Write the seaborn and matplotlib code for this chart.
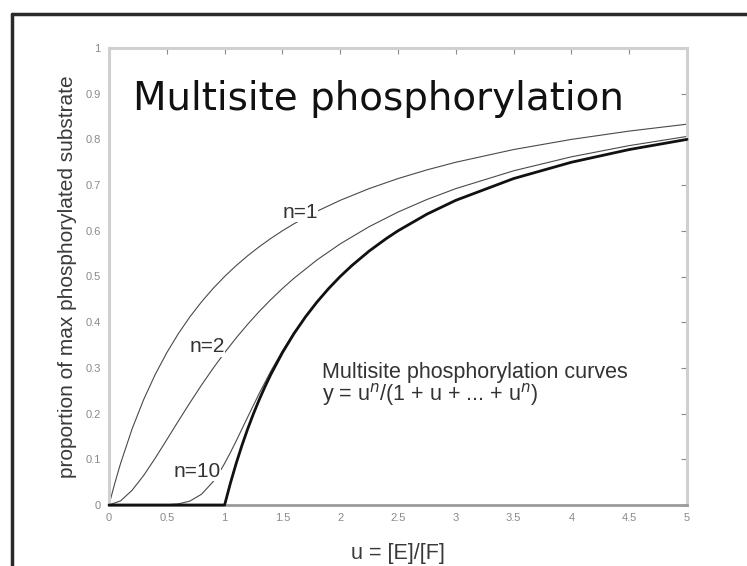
import matplotlib
matplotlib.use("Agg")
import matplotlib.pyplot as plt
from matplotlib.lines import Line2D
import seaborn as sns

# ---- data ----
u_n1 = [0, 0.05, 0.1, 0.2, 0.3, 0.4, 0.5, 0.6, 0.7, 0.8, 0.9, 1.0, 1.1, 1.2, 1.3, 1.4,
        1.5, 1.6, 1.8, 2.0, 2.25, 2.5, 2.75, 3.0, 3.5, 4.0, 4.5, 5.0]
y_n1 = [0, 0.0476, 0.0909, 0.1667, 0.2308, 0.2857, 0.3333, 0.375, 0.4118, 0.4444, 0.4737,
        0.5, 0.5238, 0.5455, 0.5652, 0.5833, 0.6, 0.6154, 0.6429, 0.6667, 0.6923, 0.7143,
        0.7333, 0.75, 0.7778, 0.8, 0.8182, 0.8333]

u_n2 = [0, 0.1, 0.2, 0.3, 0.4, 0.5, 0.6, 0.7, 0.8, 0.9, 1.0, 1.1, 1.2, 1.3, 1.4,
        1.5, 1.6, 1.8, 2.0, 2.25, 2.5, 2.75, 3.0, 3.5, 4.0, 4.5, 5.0]
y_n2 = [0, 0.009, 0.0323, 0.0647, 0.1026, 0.1429, 0.1837, 0.2237, 0.2623, 0.2989, 0.3333,
        0.3656, 0.3956, 0.4236, 0.4495, 0.4737, 0.4961, 0.5364, 0.5714, 0.609, 0.641,
        0.6685, 0.6923, 0.7313, 0.7619, 0.7864, 0.8065]

u_n10 = [0, 0.4, 0.5, 0.6, 0.7, 0.8, 0.9, 0.95, 1.0, 1.05, 1.1, 1.2, 1.3, 1.4, 1.5,
         1.6, 1.8, 2.0, 2.25, 2.5, 2.75, 3.0, 3.5, 4.0, 4.5, 5.0]
y_n10 = [0, 0.0001, 0.0005, 0.0024, 0.0086, 0.0235, 0.0508, 0.0694, 0.0909, 0.1147,
         0.14, 0.1926, 0.2444, 0.293, 0.3372, 0.3771, 0.4451, 0.5002, 0.5556, 0.6,
         0.6364, 0.6667, 0.7143, 0.75, 0.7778, 0.8]

u_lim = [0, 1.0, 1.05, 1.1, 1.15, 1.2, 1.25, 1.3, 1.35, 1.4, 1.5, 1.6, 1.7, 1.8, 1.9,
         2.0, 2.1, 2.25, 2.4, 2.5, 2.75, 3.0, 3.5, 4.0, 4.5, 5.0]
y_lim = [0, 0, 0.0476, 0.0909, 0.1304, 0.1667, 0.2, 0.2308, 0.2593, 0.2857, 0.3333,
         0.375, 0.4118, 0.4444, 0.4737, 0.5, 0.5238, 0.5556, 0.5833, 0.6, 0.6364,
         0.6667, 0.7143, 0.75, 0.7778, 0.8]

x_ticks = [0, 0.5, 1, 1.5, 2, 2.5, 3, 3.5, 4, 4.5, 5]
x_tick_labels = ["0", "0.5", "1", "1.5", "2", "2.5", "3", "3.5", "4", "4.5", "5"]
y_ticks = [0, 0.1, 0.2, 0.3, 0.4, 0.5, 0.6, 0.7, 0.8, 0.9, 1]
y_tick_labels = ["0", "0.1", "0.2", "0.3", "0.4", "0.5", "0.6", "0.7", "0.8", "0.9", "1"]

curve_labels = ["n=1", "n=2", "n=10"]
curve_label_pos = [(1.652, 0.641), (0.848, 0.346), (0.761, 0.074)]

# ---- style ----
sns.set_style("white")
plt.rcParams["font.family"] = ["Liberation Sans", "DejaVu Sans"]

fig = plt.figure(figsize=(7.47, 5.66), dpi=100)
ax = fig.add_axes([109 / 747, 1 - 505 / 566, (687 - 109) / 747, (505 - 48) / 566])

thin = "#4a4a4a"
sns.lineplot(x=u_n1, y=y_n1, ax=ax, color=thin, lw=0.8, sort=False, estimator=None)
sns.lineplot(x=u_n2, y=y_n2, ax=ax, color=thin, lw=0.8, sort=False, estimator=None)
sns.lineplot(x=u_n10, y=y_n10, ax=ax, color=thin, lw=0.8, sort=False, estimator=None)
sns.lineplot(x=u_lim, y=y_lim, ax=ax, color="#111111", lw=2.0, sort=False,
             estimator=None, zorder=5, clip_on=False)

ax.set_xlim(0, 5)
ax.set_ylim(0, 1)
ax.set_xticks(x_ticks)
ax.set_xticklabels(x_tick_labels)
ax.set_yticks(y_ticks)
ax.set_yticklabels(y_tick_labels)
ax.tick_params(direction="in", top=True, right=True, length=4, width=0.8,
               color="#8a8a8a", labelsize=8, labelcolor="#8a8a8a", pad=6)

for side in ["left", "right", "top"]:
    ax.spines[side].set_color("#d0d0d0")
    ax.spines[side].set_linewidth(2.2)
ax.spines["bottom"].set_color("#9a9a9a")
ax.spines["bottom"].set_linewidth(2.0)

ax.set_xlabel("u = [E]/[F]", fontsize=15.5, color="#3a3a3a", labelpad=14)
ax.set_ylabel("proportion of max phosphorylated substrate", fontsize=15,
              color="#3a3a3a", labelpad=6)

ax.text(0.208, 0.864, "Multisite phosphorylation", fontsize=28,
        family="DejaVu Sans", color="#111111", va="baseline", ha="left")

for lab, (lx, ly) in zip(curve_labels, curve_label_pos):
    ax.text(lx, ly, lab, fontsize=15, color="#333333", ha="center", va="center",
            bbox=dict(facecolor="white", edgecolor="none", pad=0.5), zorder=6)

ax.text(1.843, 0.291, "Multisite phosphorylation curves", fontsize=15.5,
        color="#333333", ha="left", va="center")
ax.text(1.843, 0.241, r"y = u$^n$/(1 + u + ... + u$^n$)", fontsize=15.5,
        color="#333333", ha="left", va="center")

# slide frame (top and left border lines)
fig.add_artist(Line2D([12 / 747, 1], [1 - 14 / 566, 1 - 14 / 566],
                      transform=fig.transFigure, color="#2a2a2a", lw=2.5))
fig.add_artist(Line2D([12 / 747, 12 / 747], [0, 1 - 14 / 566],
                      transform=fig.transFigure, color="#2a2a2a", lw=2.5))

fig.savefig("out.png", dpi=100)
